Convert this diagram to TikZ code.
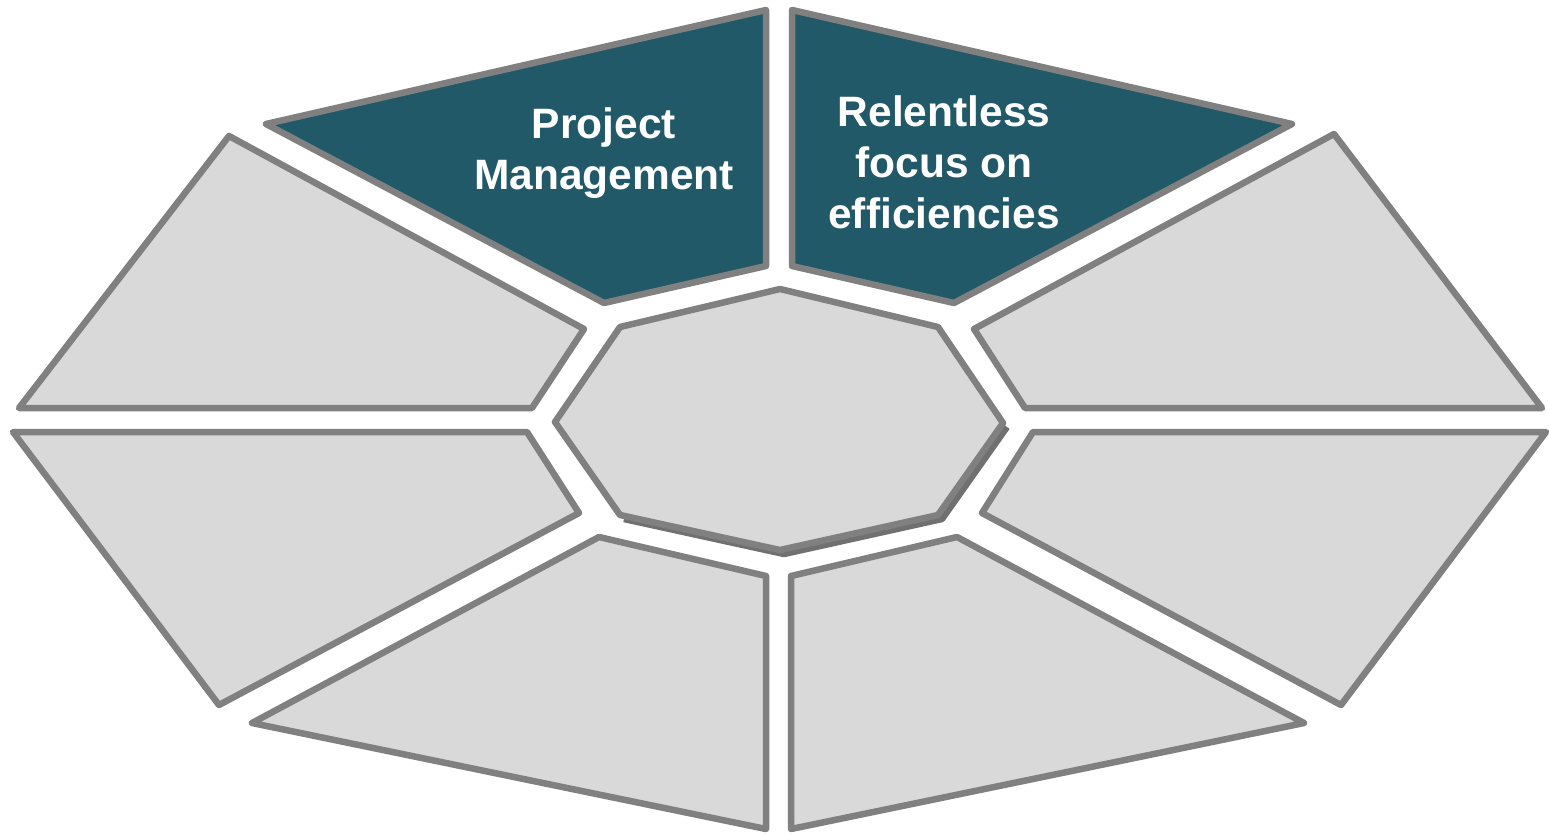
\documentclass[tikz,border=0pt]{standalone}
\usepackage{fontspec}
\setmainfont{Liberation Sans}
\definecolor{tealdark}{HTML}{215968}
\definecolor{cellgray}{HTML}{D9D9D9}
\definecolor{edgegray}{HTML}{808080}
\definecolor{shadowgray}{HTML}{707070}
\begin{document}
\begin{tikzpicture}[x=1pt,y=-1pt,
  cell/.style={draw=edgegray,line width=6.5pt,line join=round,fill=cellgray},
  darkcell/.style={cell,fill=tealdark},
  label/.style={text=white,font=\fontsize{42.5}{51}\selectfont\bfseries,align=center,inner sep=0pt}]
\useasboundingbox (0,0) rectangle (1549,835);
% top dark cells
\draw[darkcell] (766,10) -- (766,266) -- (604,303) -- (266,124) -- cycle;
\draw[darkcell] (792,10) -- (792,266) -- (954,303) -- (1292,124) -- cycle;
% upper side cells
\draw[cell] (229,136) -- (584,329) -- (532,408) -- (19,408) -- cycle;
\draw[cell] (1334,134) -- (974,329) -- (1025,408) -- (1542,408) -- cycle;
% lower side cells
\draw[cell] (13,432) -- (527,432) -- (579,513) -- (219,705) -- cycle;
\draw[cell] (1546,432) -- (1033,432) -- (982,513) -- (1341,705) -- cycle;
% bottom cells
\draw[cell] (599,537) -- (766,576) -- (766,829) -- (252,723) -- cycle;
\draw[cell] (791,576) -- (957,537) -- (1304,723) -- (791,829) -- cycle;
% centre octagon with shadow
\draw[draw=shadowgray,line width=6.5pt,line join=round] (1007,427) -- (942,519) -- (784,554) -- (624,519);
\draw[cell] (780,289) -- (938,327) -- (1003,423) -- (938,515) -- (780,550) -- (620,515) -- (555,422) -- (620,327) -- cycle;
% labels
\node[label] (pm) at (604,153) {Project\\Management};
\node[label] (rf) at (944,162) {Relentless\\focus on\\efficiencies};
\end{tikzpicture}
\end{document}
